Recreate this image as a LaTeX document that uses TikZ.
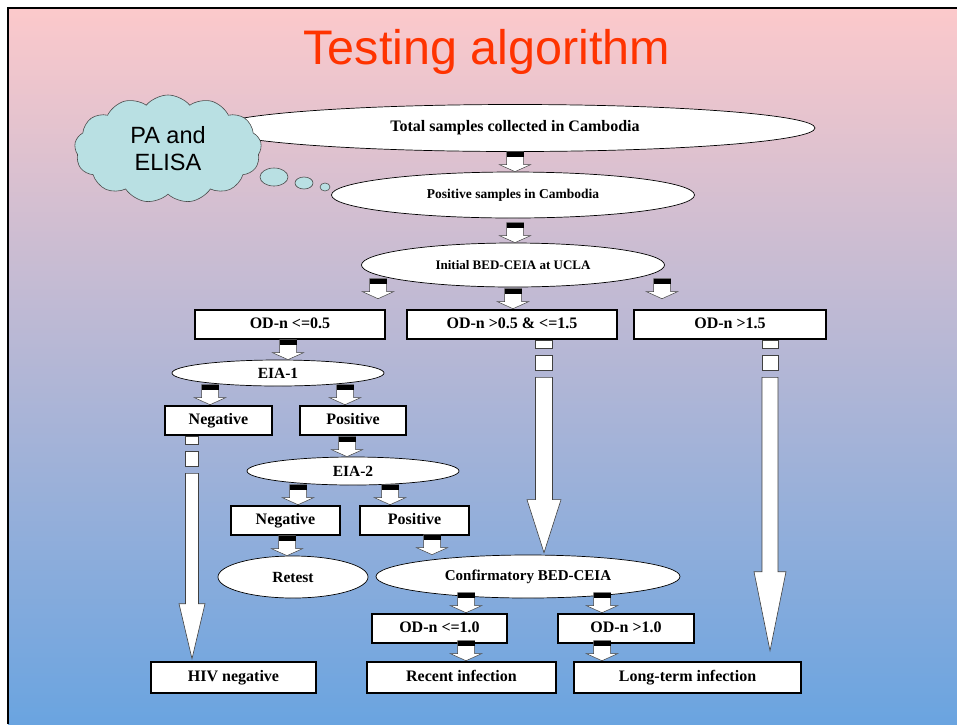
\documentclass[tikz,border=0pt]{standalone}
\usepackage{fontspec}
\setmainfont{Liberation Serif}
\newfontfamily\arialfont{Liberation Sans}
\usetikzlibrary{calc,shapes.geometric,shapes.symbols}

\definecolor{slidetop}{RGB}{252,201,203}
\definecolor{slidebot}{RGB}{106,164,224}
\definecolor{titlered}{RGB}{255,51,0}
\definecolor{cloudfill}{RGB}{185,224,227}

% short block arrow: x, target node, optional gap above the target
\newcommand{\stub}[3][0]{%
  \begin{scope}[shift={(#2,0 |- #3.north)},yshift=#1pt]
    \draw[stubarrow] (-8.5,-20) -- (-8.5,-7) -- (-15.5,-7) -- (0,0)
      -- (15.5,-7) -- (8.5,-7) -- (8.5,-20) -- cycle;
    \fill (-8.5,-20) rectangle (8.5,-15);
  \end{scope}}

% long striped arrow: x, from, to, half width, head length, gap
\newcommand{\striped}[6]{%
  \draw[stripe] let \p1=(#1,0 |- #2.south) in
    (\x1-#4pt,\y1) rectangle (\x1+#4pt,\y1-8pt)
    (\x1-#4pt,\y1-15pt) rectangle (\x1+#4pt,\y1-30pt);
  \draw[stripe] let \p1=(#1,0 |- #2.south), \p2=(#1,0 |- #3.north) in
    (\x1-#4pt,\y1-37pt) -- (\x1-#4pt,\y2+#6pt+#5pt)
    -- (\x1-2*#4pt,\y2+#6pt+#5pt) -- (\x1,\y2+#6pt)
    -- (\x1+2*#4pt,\y2+#6pt+#5pt) -- (\x1+#4pt,\y2+#6pt+#5pt)
    -- (\x1+#4pt,\y1-37pt) -- cycle;}

\begin{document}
\begin{tikzpicture}[x=1pt,y=-1pt,
  box/.style={draw,fill=white,line width=2.6pt,inner sep=0pt,minimum height=29pt,
    text height=11pt,text depth=3pt,font=\bfseries\fontsize{16}{18}\selectfont},
  oval/.style={ellipse,draw,fill=white,line width=0.7pt,inner sep=0pt,
    font=\bfseries\fontsize{15.5}{17}\selectfont},
  stubarrow/.style={fill=white,draw=black!75,line width=0.5pt},
  stripe/.style={fill=white,draw=black!75,line width=0.6pt},
  bubble/.style={ellipse,draw=black!70,fill=cloudfill,line width=0.6pt,inner sep=0pt}]

\useasboundingbox (0,0) rectangle (957,724);
\shade[top color=slidetop,bottom color=slidebot] (8,8) rectangle (957,724);
\draw[line width=2pt] (8,724) -- (8,8) -- (957,8);

\node[text=titlered,font=\arialfont\fontsize{48.5}{52}\selectfont] (title) at (487,52) {Testing algorithm};

% top of the chart
\node[oval,minimum width=600pt,minimum height=47pt,font=\bfseries\fontsize{16}{18}\selectfont] (total) at (515,128) {Total samples collected in Cambodia};
\node[oval,minimum width=363pt,minimum height=46pt,font=\bfseries\fontsize{13.5}{15}\selectfont] (possamp) at (513,195) {Positive samples in Cambodia};
\node[oval,minimum width=303pt,minimum height=44pt,font=\bfseries\fontsize{13}{15}\selectfont] (init) at (513,265) {Initial BED-CEIA at UCLA};

% three OD-n classes
\node[box,minimum width=190pt] (odlow) at (290,324.5) {OD-n <=0.5};
\node[box,minimum width=210pt] (odmid) at (512,324.5) {OD-n >0.5 \& <=1.5};
\node[box,minimum width=192pt] (odhigh) at (730,324.5) {OD-n >1.5};

% EIA branch
\node[oval,minimum width=212pt,minimum height=26pt] (eiaone) at (278,373) {EIA-1};
\node[box,minimum width=107pt] (negone) at (218.5,420.5) {Negative};
\node[box,minimum width=106pt] (posone) at (353,420.5) {Positive};
\node[oval,minimum width=212pt,minimum height=28pt] (eiatwo) at (353,471) {EIA-2};
\node[box,minimum width=109pt] (negtwo) at (285.5,520.5) {Negative};
\node[box,minimum width=109pt] (postwo) at (414.5,520.5) {Positive};
\node[oval,minimum width=150pt,minimum height=42pt] (retest) at (293,577) {Retest};
\node[oval,minimum width=304pt,minimum height=43pt,font=\bfseries\fontsize{15}{17}\selectfont] (conf) at (528,576.5) {Confirmatory BED-CEIA};
\node[box,minimum width=135pt] (odtenlow) at (439.5,628.5) {OD-n <=1.0};
\node[box,minimum width=136pt] (odtenhigh) at (626,628.5) {OD-n >1.0};

% outcomes
\node[box,minimum width=165pt,minimum height=31pt] (hivneg) at (233.5,677.5) {HIV negative};
\node[box,minimum width=189pt,minimum height=31pt] (recent) at (461.5,677.5) {Recent infection};
\node[box,minimum width=227pt,minimum height=31pt] (longterm) at (687.5,677.5) {Long-term infection};

% short arrows
\stub{515}{possamp}
\stub{515}{init}
\stub[10]{378}{odlow}
\stub{513}{odmid}
\stub[10]{662}{odhigh}
\stub{288}{eiaone}
\stub{210}{negone}
\stub{345}{posone}
\stub{347}{eiatwo}
\stub{298}{negtwo}
\stub{390}{postwo}
\stub{287}{retest}
\stub{432}{conf}
\stub{466}{odtenlow}
\stub{602}{odtenhigh}
\stub{466}{recent}
\stub{602}{longterm}

% long arrows
\striped{192}{negone}{hivneg}{6.5}{55}{2}
\striped{544}{odmid}{conf}{8.5}{53}{2}
\striped{770}{odhigh}{longterm}{8}{79}{10}

% thought cloud
\node[bubble,minimum width=28pt,minimum height=18pt] (bubone) at (274,177) {};
\node[bubble,minimum width=18pt,minimum height=12pt] (bubtwo) at (304,183) {};
\node[bubble,minimum width=10pt,minimum height=8pt] (bubthree) at (325,187) {};
\node[cloud,cloud puffs=13,cloud puff arc=100,cloud ignores aspect,draw=black!70,fill=cloudfill,line width=0.6pt,
  minimum width=187pt,minimum height=108pt,inner sep=0pt,align=center,
  font=\arialfont\fontsize{23.5}{27}\selectfont] (pa) at (168,149) {PA and\\ELISA};
\end{tikzpicture}
\end{document}
